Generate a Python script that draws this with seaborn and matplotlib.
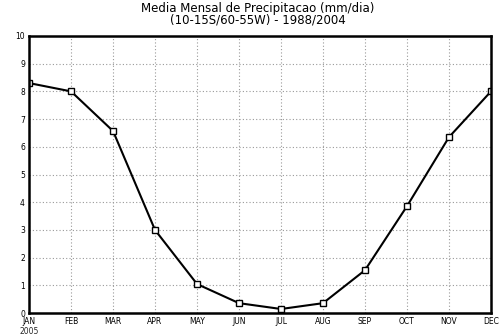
import numpy as np
import pandas as pd
import matplotlib
matplotlib.use("Agg")
import matplotlib.pyplot as plt
import seaborn as sns

# monthly mean precipitation (mm/day), 10-15S / 60-55W, 1988-2004
months = ["JAN", "FEB", "MAR", "APR", "MAY", "JUN", "JUL", "AUG", "SEP", "OCT", "NOV", "DEC"]
precip = [8.3, 8.0, 6.57, 3.0, 1.05, 0.36, 0.15, 0.36, 1.55, 3.86, 6.35, 8.0]
y_ticks = list(range(0, 11))

df = pd.DataFrame({"mes": np.arange(len(months)), "prec": precip})

sns.set_style("white")
plt.rcParams["font.family"] = ["DejaVu Sans"]

fig = plt.figure(figsize=(5.01, 3.36), dpi=100)
ax = fig.add_axes([0.058, 0.068, 0.922, 0.825])

sns.lineplot(data=df, x="mes", y="prec", ax=ax, color="black", lw=1.5,
             marker="s", markersize=4, markerfacecolor="white",
             markeredgecolor="black", markeredgewidth=1.0)

ax.set_xlim(0, len(months) - 1)
ax.set_ylim(0, 10)
ax.set_xticks(range(len(months)))
ax.set_xticklabels(months)
ax.set_yticks(y_ticks)
ax.tick_params(axis="both", labelsize=5.5, length=2, pad=1, colors="black")
ax.grid(True, color="#999999", linestyle=(0, (1, 2)), lw=0.8)
for s in ax.spines.values():
    s.set_color("black")
    s.set_linewidth(1.8)
ax.set_xlabel("")
ax.set_ylabel("")
ax.text(0, -0.05, "2005", transform=ax.get_xaxis_transform(), ha="center",
        va="top", fontsize=5.5)

fig.text(0.515, 0.958, "Media Mensal de Precipitacao (mm/dia)\n(10-15S/60-55W) - 1988/2004",
         ha="center", va="center", fontsize=8.5, linespacing=0.9, color="black")

fig.savefig("out.png", dpi=100)
